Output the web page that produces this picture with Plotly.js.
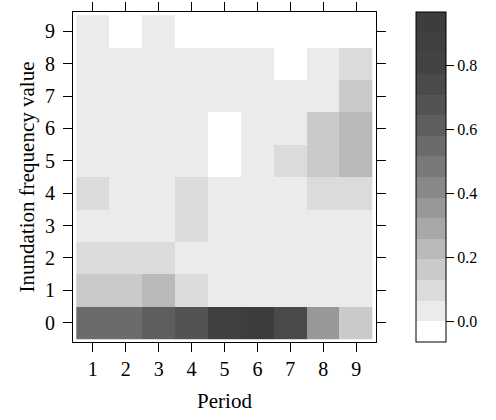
<!DOCTYPE html>
<html>
<head>
<meta charset="utf-8">
<script src="https://cdn.plot.ly/plotly-3.0.1.min.js"></script>
<style>html,body{margin:0;padding:0;background:#fff;}#chart{width:496px;height:420px;}</style>
</head>
<body>
<div id="chart"></div>
<script>
// Periods (x) and inundation frequency values (y)
var periods = [1, 2, 3, 4, 5, 6, 7, 8, 9];
var freqValues = [0, 1, 2, 3, 4, 5, 6, 7, 8, 9];

// Proportions, one array per inundation frequency value (row), across periods 1..9
var freq0 = [0.55, 0.56, 0.60, 0.67, 0.87, 0.904, 0.74, 0.35, 0.16];
var freq1 = [0.17, 0.17, 0.21, 0.09, 0.03, 0.02, 0.03, 0.05, 0.03];
var freq2 = [0.10, 0.10, 0.09, 0.03, 0.03, 0.02, 0.03, 0.05, 0.03];
var freq3 = [0.03, 0.05, 0.03, 0.07, 0.02, 0.01, 0.03, 0.05, 0.03];
var freq4 = [0.08, 0.04, 0.03, 0.07, 0.02, 0.01, 0.03, 0.10, 0.10];
var freq5 = [0.02, 0.03, 0.02, 0.02, 0.00, 0.01, 0.08, 0.15, 0.22];
var freq6 = [0.02, 0.02, 0.01, 0.02, 0.00, 0.01, 0.03, 0.15, 0.22];
var freq7 = [0.01, 0.02, 0.005, 0.01, 0.01, 0.01, 0.02, 0.05, 0.15];
var freq8 = [0.01, 0.01, 0.004, 0.005, 0.01, 0.005, 0.00, 0.03, 0.08];
var freq9 = [0.01, 0.00, 0.003, 0.00, 0.00, 0.00, 0.00, 0.00, 0.00];

// Colour-key levels
var keyMin = -0.0633;
var keyMax = 0.9671;
var keyTicks = [0, 0.2, 0.4, 0.6, 0.8];
var grays = ['#ffffff', '#ebebeb', '#dbdbdb', '#cacaca', '#b9b9b9', '#a8a8a8',
             '#989898', '#888888', '#797979', '#6b6b6b', '#5e5e5e', '#535353',
             '#4a4a4a', '#434343', '#404040', '#3d3d3d'];

var z = [freq0, freq1, freq2, freq3, freq4, freq5, freq6, freq7, freq8, freq9];

var colorscale = [];
for (var k = 0; k < grays.length; k++) {
  colorscale.push([k / grays.length, grays[k]]);
  colorscale.push([(k + 1) / grays.length, grays[k]]);
}

var serif = 'Liberation Serif, Times New Roman, serif';

var trace = {
  type: 'heatmap',
  x: periods,
  y: freqValues,
  z: z,
  zmin: keyMin,
  zmax: keyMax,
  colorscale: colorscale,
  zsmooth: false,
  hoverinfo: 'x+y+z',
  colorbar: {
    x: (416 - 73) / 303, xanchor: 'left', xpad: 0,
    y: 0, yanchor: 'bottom', ypad: 0,
    lenmode: 'fraction', len: 1,
    thickness: 30, thicknessmode: 'pixels',
    outlinewidth: 1, outlinecolor: '#000',
    ticks: 'outside', ticklen: 8, tickwidth: 1, tickcolor: '#000',
    tickvals: keyTicks, tickformat: '.1f',
    tickfont: {family: serif, size: 16, color: '#000'}
  }
};

var layout = {
  width: 496, height: 420,
  margin: {l: 73, r: 120, t: 12, b: 78},
  paper_bgcolor: '#fff', plot_bgcolor: '#fff',
  font: {family: serif, color: '#000'},
  xaxis: {
    range: [0.4, 9.6],
    tickvals: periods,
    ticks: 'outside', ticklen: 9, tickwidth: 1, tickcolor: '#000',
    showline: true, linecolor: '#000', linewidth: 1, mirror: 'ticks',
    showgrid: false, zeroline: false,
    tickfont: {family: serif, size: 20, color: '#000'},
    title: {text: 'Period', font: {family: serif, size: 21, color: '#000'}, standoff: 14}
  },
  yaxis: {
    range: [-0.6, 9.6],
    tickvals: freqValues,
    ticks: 'outside', ticklen: 9, tickwidth: 1, tickcolor: '#000',
    ticklabelstandoff: 4,
    showline: true, linecolor: '#000', linewidth: 1, mirror: 'ticks',
    showgrid: false, zeroline: false,
    tickfont: {family: serif, size: 20, color: '#000'},
    title: {text: 'Inundation frequency value', font: {family: serif, size: 21, color: '#000'}, standoff: 4}
  }
};

Plotly.newPlot('chart', [trace], layout, {displayModeBar: false, staticPlot: true});
</script>
</body>
</html>
